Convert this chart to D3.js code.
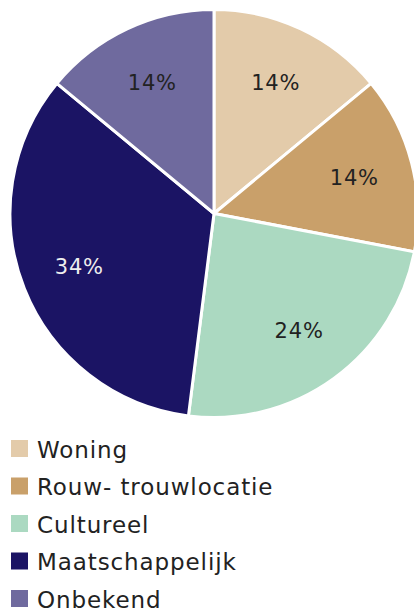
<!DOCTYPE html>
<html>
<head>
<meta charset="utf-8">
<script src="https://cdn.jsdelivr.net/npm/d3@7"></script>
<style>
  body { margin: 0; background: #fff; }
  text { font-family: "DejaVu Sans", sans-serif; }
</style>
</head>
<body>
<svg width="414" height="611"></svg>
<script>
// gegevens
var categorieen = ["Woning", "Rouw- trouwlocatie", "Cultureel", "Maatschappelijk", "Onbekend"];
var percentages = [14, 14, 24, 34, 14];
var kleuren = ["#E3CBAA", "#C9A06A", "#ABD9C1", "#1B1464", "#6F6A9E"];
var labelKleuren = ["#222", "#222", "#222", "#eee", "#222"];

var svg = d3.select("svg");
var cx = 214, cy = 213.5, r = 204;

var data = categorieen.map(function(c, i) { return {naam: c, waarde: percentages[i], i: i}; });

var pie = d3.pie().sort(null).value(function(d) { return d.waarde; });
var arc = d3.arc().innerRadius(0).outerRadius(r);
var labelArc = d3.arc().innerRadius(r * 0.71).outerRadius(r * 0.71);

var kleur = d3.scaleOrdinal().domain(categorieen).range(kleuren);

var g = svg.append("g").attr("transform", "translate(" + cx + "," + cy + ")");

g.selectAll("path").data(pie(data)).enter().append("path")
  .attr("d", arc)
  .attr("fill", function(d) { return kleur(d.data.naam); })
  .attr("stroke", "#fff")
  .attr("stroke-width", 3)
  .attr("stroke-linejoin", "round");

g.selectAll("text").data(pie(data)).enter().append("text")
  .attr("transform", function(d) { return "translate(" + labelArc.centroid(d) + ")"; })
  .attr("text-anchor", "middle")
  .attr("dy", "0.36em")
  .attr("font-size", 21)
  .attr("letter-spacing", 0.8)
  .attr("fill", function(d) { return labelKleuren[d.data.i]; })
  .text(function(d) { return d.data.waarde + "%"; });

// legenda
var legenda = svg.append("g").attr("transform", "translate(11,440)");
var rij = legenda.selectAll("g").data(data).enter().append("g")
  .attr("transform", function(d) { return "translate(0," + (d.i * 37.5) + ")"; });
rij.append("rect").attr("width", 17).attr("height", 17)
  .attr("fill", function(d) { return kleur(d.naam); });
rij.append("text").attr("x", 26).attr("y", 17.5)
  .attr("font-size", 23)
  .attr("letter-spacing", 0.9)
  .attr("fill", "#222")
  .text(function(d) { return d.naam; });
</script>
</body>
</html>
